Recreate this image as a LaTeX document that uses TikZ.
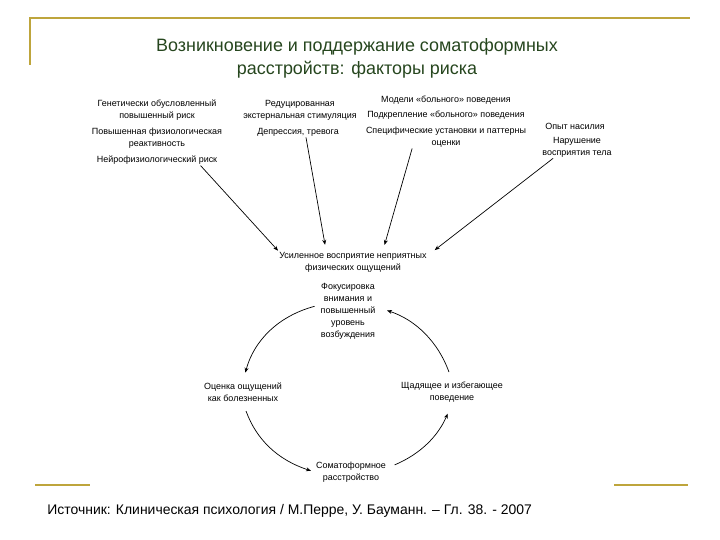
\documentclass[tikz,border=0pt]{standalone}
\usepackage{fontspec}
\setmainfont{Liberation Sans}
\usetikzlibrary{arrows.meta}
\definecolor{rulegold}{RGB}{190,165,60}
\definecolor{titlegreen}{RGB}{38,70,30}

\begin{document}
\begin{tikzpicture}[x=1bp, y=1bp, line width=0.7pt,
    lbl/.style={align=center, inner sep=1pt, font=\fontsize{9}{12}\selectfont},
    arr/.style={-{Stealth[length=5pt, width=4pt]}}]
  \useasboundingbox (0,0) rectangle (720,-540);
  % frame lines
  \draw[rulegold, line width=2pt] (30,-65) -- (30,-18) -- (690,-18);
  \draw[rulegold, line width=2pt] (35,-485) -- (90,-485);
  \draw[rulegold, line width=2pt] (614,-485) -- (688,-485);
  % title and source
  \node[align=center, text=titlegreen, font=\fontsize{18}{23}\selectfont] (title) at (357,-58)
    {Возникновение и поддержание соматоформных\\расстройств: факторы риска};
  \node[anchor=west, inner sep=0pt, font=\fontsize{14}{16}\selectfont] (source) at (47,-511)
    {Источник: Клиническая психология / М.Перре, У. Бауманн. – Гл. 38. - 2007};
  % risk factors
  \node[lbl] (gen) at (157,-110) {Генетически обусловленный\\повышенный риск};
  \node[lbl] (physio) at (157,-138) {Повышенная физиологическая\\реактивность};
  \node[lbl] (neuro) at (157,-160) {Нейрофизиологический риск};
  \node[lbl] (redu) at (300,-110) {Редуцированная\\экстернальная стимуляция};
  \node[lbl] (depr) at (298,-132) {Депрессия, тревога};
  \node[lbl] (model) at (446,-100) {Модели «больного» поведения};
  \node[lbl] (reinf) at (446,-115) {Подкрепление «больного» поведения};
  \node[lbl] (spec) at (446,-137) {Специфические установки и паттерны\\оценки};
  \node[lbl] (abuse) at (575,-126) {Опыт насилия};
  \node[lbl] (body) at (577,-147) {Нарушение\\восприятия тела};
  % cycle
  \node[lbl] (amp) at (353,-262) {Усиленное восприятие неприятных\\физических ощущений};
  \node[lbl] (focus) at (348,-311) {Фокусировка\\внимания и\\повышенный\\уровень\\возбуждения};
  \node[lbl] (eval) at (243,-392) {Оценка ощущений\\как болезненных};
  \node[lbl] (avoid) at (452,-392) {Щадящее и избегающее\\поведение};
  \node[lbl] (soma) at (351,-472) {Соматоформное\\расстройство};
  % arrows into amp
  \draw[arr] ([xshift=-18pt]neuro.south east) -- (amp.north west);
  \draw[arr, shorten >=6pt] ([xshift=8pt]depr.south) -- ([xshift=-27pt]amp.north);
  \draw[arr, shorten >=6pt] ([xshift=-34pt]spec.south) -- ([xshift=30pt]amp.north);
  \draw[arr, shorten >=1pt] ([xshift=-24pt]body.south) -- ([xshift=6pt]amp.north east);
  % cycle arrows
  \draw[arr, shorten <=5pt, shorten >=9pt] ([yshift=6pt]focus.west) to[bend right=30] (eval.north);
  \draw[arr, shorten <=9pt, shorten >=4pt] (eval.south) to[bend right=26] (soma.west);
  \draw[arr, shorten <=8pt, shorten >=11pt] ([yshift=4pt]soma.east) to[bend right=22] (avoid.south);
  \draw[arr, shorten <=9pt, shorten >=11pt] (avoid.north) to[bend right=26] ([yshift=4pt]focus.east);
\end{tikzpicture}
\end{document}
